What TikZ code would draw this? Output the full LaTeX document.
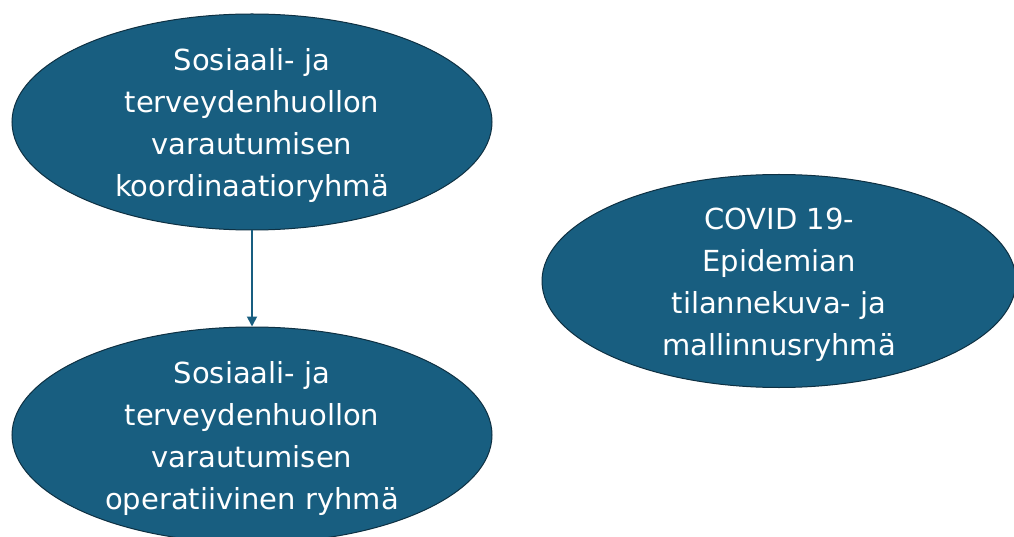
\documentclass[tikz,border=0pt]{standalone}
\usepackage{fontspec}
\setmainfont{DejaVu Sans}
\usetikzlibrary{shapes.geometric,arrows.meta}
\definecolor{groupblue}{RGB}{24,94,128}
\definecolor{groupedge}{RGB}{14,48,66}
\tikzset{
  group/.style={ellipse, fill=groupblue, draw=groupedge, line width=1pt,
    minimum width=480pt, minimum height=216pt, inner sep=0pt},
  grouptext/.style={text=white, align=center, inner sep=0pt, yshift=-3.5pt,
    font=\fontsize{29}{42}\selectfont},
  link/.style={draw=groupblue, line width=1.8pt,
    -{Triangle[length=10pt,width=10pt]}}
}
\begin{document}
\begin{tikzpicture}[x=1pt,y=-1pt]
  \useasboundingbox (0,0) rectangle (1014,537);
  \clip (0,0) rectangle (1014,537);
  \fill[white] (0,0) rectangle (1014,537);
  \node[group, label={[grouptext]center:Sosiaali- ja\\terveydenhuollon\\varautumisen\\koordinaatioryhmä}] (coord) at (252,122) {};
  \node[group, label={[grouptext]center:Sosiaali- ja\\terveydenhuollon\\varautumisen\\operatiivinen ryhmä}] (oper) at (252,435) {};
  \node[group, minimum width=474pt, minimum height=213pt,
    label={[grouptext]center:COVID 19-\\Epidemian\\tilannekuva- ja\\mallinnusryhmä}] (covid) at (779,281) {};
  \draw[link] (coord) -- (oper);
\end{tikzpicture}
\end{document}
